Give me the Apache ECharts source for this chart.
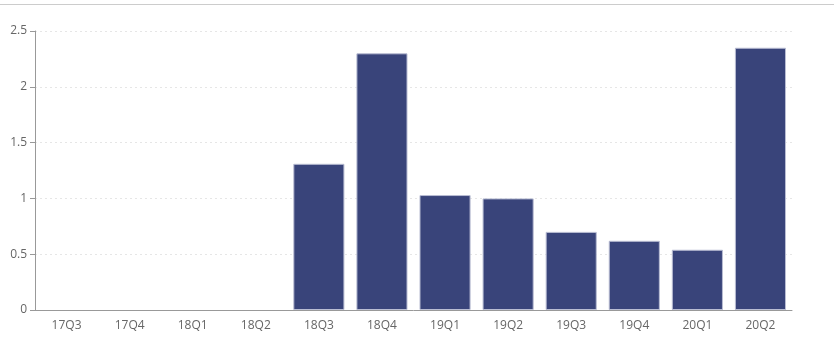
<!DOCTYPE html>
<html>
<head>
<meta charset="utf-8">
<script src="https://cdn.jsdelivr.net/npm/echarts@6/dist/echarts.min.js"></script>
<style>
html,body{margin:0;padding:0;background:#fff;}
#c{width:834px;height:339px;}
</style>
</head>
<body>
<div id="c"></div>
<script>
const categories = ['17Q3','17Q4','18Q1','18Q2','18Q3','18Q4','19Q1','19Q2','19Q3','19Q4','20Q1','20Q2'];
const values = [0, 0, 0, 0, 1.31, 2.3, 1.03, 1.0, 0.7, 0.62, 0.54, 2.35];
const yTicks = [0, 0.5, 1, 1.5, 2, 2.5];

const barData = values.map(v => v === 0 ? {value: v, itemStyle: {borderWidth: 0, opacity: 0}} : v);

const chart = echarts.init(document.getElementById('c'), null, {renderer: 'canvas'});
chart.setOption({
  animation: false,
  graphic: [{
    type: 'line',
    shape: {x1: 0, y1: 4.5, x2: 834, y2: 4.5},
    style: {stroke: '#cccccc', lineWidth: 1}
  }],
  grid: {left: 35, right: 42, top: 31, bottom: 29, containLabel: false},
  xAxis: {
    type: 'category',
    data: categories,
    axisLine: {lineStyle: {color: '#999999'}},
    axisTick: {lineStyle: {color: '#999999'}},
    axisLabel: {color: '#666666', fontSize: 12, fontFamily: 'Open Sans', margin: 10}
  },
  yAxis: {
    type: 'value',
    min: yTicks[0],
    max: yTicks[yTicks.length - 1],
    interval: 0.5,
    axisLine: {show: true, lineStyle: {color: '#999999'}},
    axisTick: {show: true, lineStyle: {color: '#999999'}},
    axisLabel: {color: '#666666', fontSize: 12, fontFamily: 'Open Sans', margin: 8},
    splitLine: {lineStyle: {color: '#e6e6e6', type: [2, 3]}}
  },
  series: [{
    type: 'bar',
    data: barData,
    barCategoryGap: '19%',
    itemStyle: {color: '#39447a', borderColor: '#b9bdd3', borderWidth: 1}
  }]
});
</script>
</body>
</html>
